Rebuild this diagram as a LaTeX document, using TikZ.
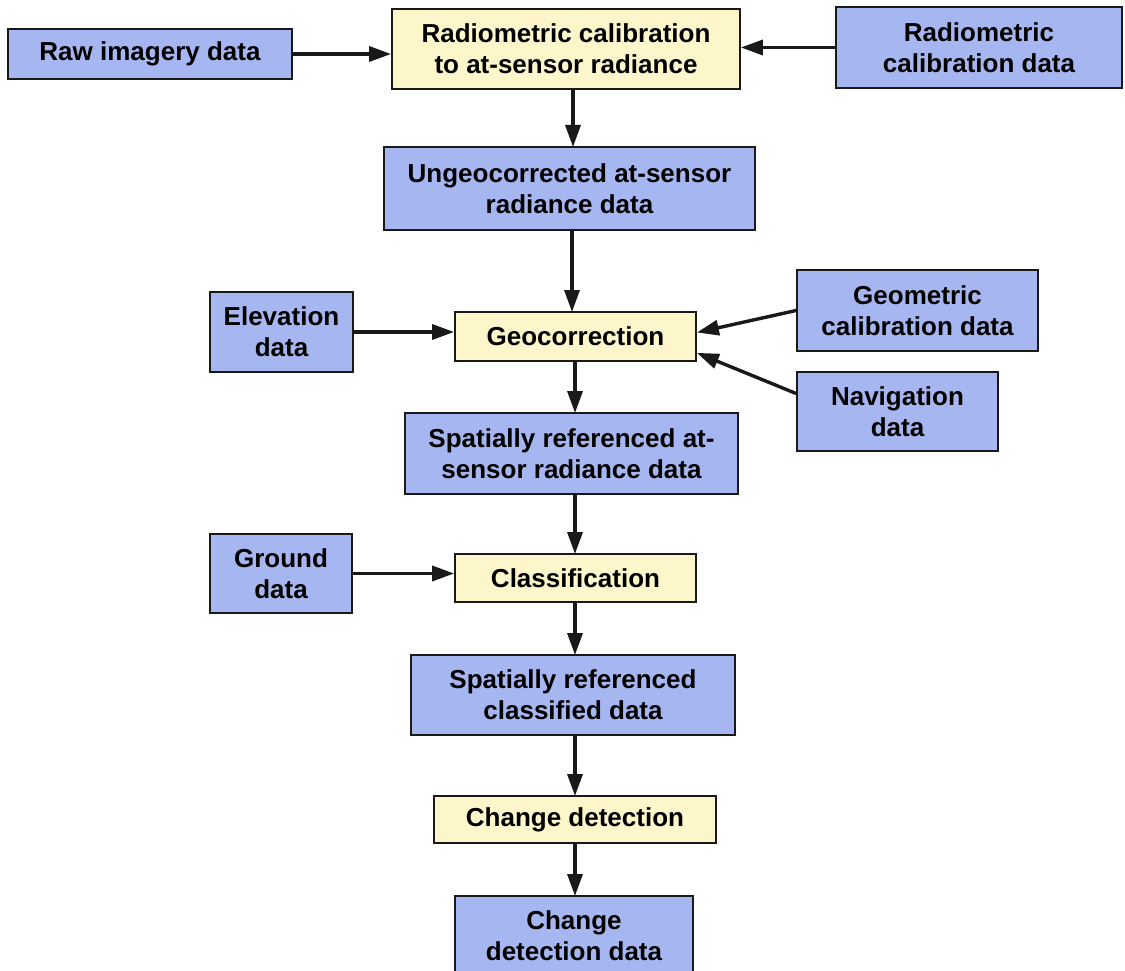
\documentclass[tikz,border=0pt]{standalone}
\usepackage{fontspec}
\setmainfont{Liberation Sans}
\usetikzlibrary{arrows.meta}
\definecolor{databox}{RGB}{166,182,240}
\definecolor{procbox}{RGB}{252,246,202}
\definecolor{edge}{RGB}{25,25,25}
\tikzset{
  box/.style={draw=edge, line width=1.8pt, inner sep=0pt, align=center,
    font=\fontsize{26}{31}\selectfont\bfseries, text=black},
  databx/.style={box, fill=databox},
  procbx/.style={box, fill=procbox},
  flow/.style={line width=3.4pt, draw=edge,
    -{Triangle[length=22pt,width=15pt]}},
}
% place a box by its corners (x1,y1)-(x2,y2)
\newcommand{\bx}[7]{%
  \node[#1, minimum width={#4-#2}, minimum height={#5-#3}]
    (#6) at ({(#2+#4)/2},{(#3+#5)/2}) {#7};}
\begin{document}
\begin{tikzpicture}[x=1pt,y=-1pt]
\useasboundingbox (0,0) rectangle (1125,971);
\fill[white] (0,0) rectangle (1125,971);

\bx{databx}{8}{29}{292}{79}{raw}{Raw imagery data}
\bx{procbx}{392}{9}{740}{89}{radcal}{Radiometric calibration\\to at-sensor radiance}
\bx{databx}{836}{7}{1122}{88}{radcaldata}{Radiometric\\calibration data}
\bx{databx}{384}{147}{755}{230}{ungeo}{Ungeocorrected at-sensor\\radiance data}
\bx{databx}{210}{292}{353}{372}{elev}{Elevation\\data}
\bx{procbx}{455}{312}{696}{361}{geocorr}{Geocorrection}
\bx{databx}{797}{270}{1038}{351}{geomcal}{Geometric\\calibration data}
\bx{databx}{797}{372}{998}{451}{nav}{Navigation\\data}
\bx{databx}{405}{413}{738}{494}{spatrad}{Spatially referenced at-\\sensor radiance data}
\bx{databx}{210}{534}{352}{613}{ground}{Ground\\data}
\bx{procbx}{455}{554}{696}{602}{classif}{Classification}
\bx{databx}{411}{655}{735}{735}{spatcls}{Spatially referenced\\classified data}
\bx{procbx}{434}{796}{716}{843}{chdet}{Change detection}
\bx{databx}{455}{896}{693}{975}{chdata}{Change\\detection data}

% inputs from the sides
\draw[flow] (raw.east) -- (raw.east -| radcal.west);
\draw[flow] (radcaldata.west) -- (radcaldata.west -| radcal.east);
\draw[flow] (elev.east) -- (elev.east -| geocorr.west);
\draw[flow] (geomcal.west) -- ([yshift=4pt]geocorr.east);
\draw[flow] ([yshift=18pt]nav.west) -- ([yshift=9pt]geocorr.south east);
\draw[flow] (ground.east) -- (ground.east -| classif.west);

% main vertical chain
\draw[flow] (573,89) -- (573,147);
\draw[flow] (572,230) -- (572,312);
\draw[flow] (575,361) -- (575,413);
\draw[flow] (575,494) -- (575,554);
\draw[flow] (575,602) -- (575,655);
\draw[flow] (575,735) -- (575,796);
\draw[flow] (575,843) -- (575,896);
\end{tikzpicture}
\end{document}
